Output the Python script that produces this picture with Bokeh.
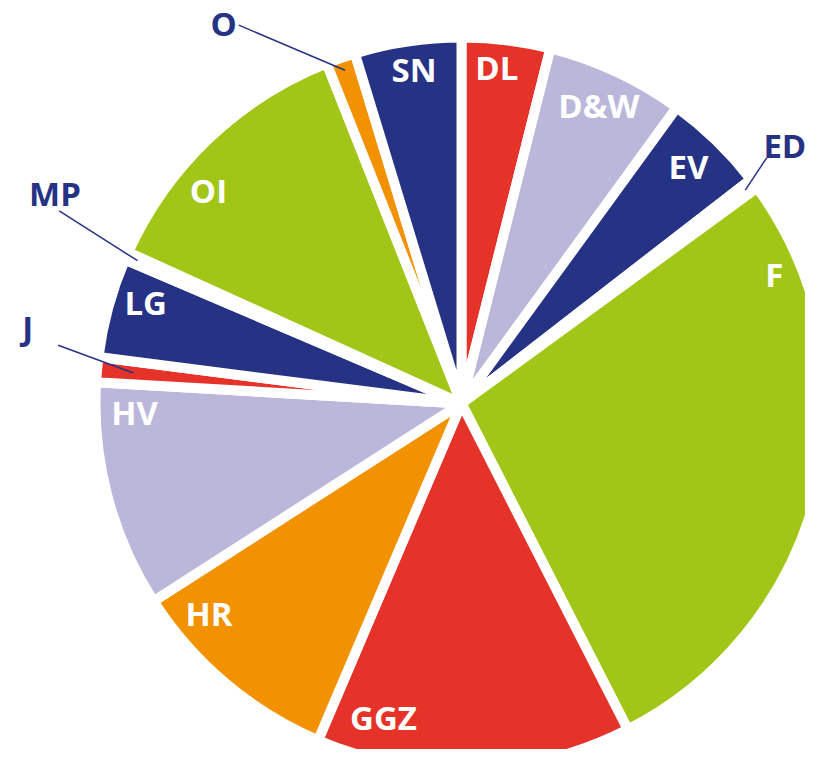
import numpy as np
from bokeh.plotting import figure
from bokeh.models import ColumnDataSource, Range1d
from bokeh.embed import file_html
from bokeh.resources import INLINE
from bokeh.core.properties import value

# ---- data ----
categories = ["DL", "D&W", "EV", "ED", "F", "GGZ", "HR", "HV", "J", "LG", "MP", "OI", "O", "SN"]
shares = [3.9, 6.1, 4.5, 0.45, 27.5, 13.9, 9.5, 10.0, 1.1, 4.4, 0.35, 12.2, 1.3, 4.7]

# ---- styles ----
RED, LAV, NAVY, GREEN, ORANGE = "#E63329", "#BAB7DA", "#263385", "#A2C617", "#F29200"
colors = [RED, LAV, NAVY, ORANGE, GREEN, RED, ORANGE, LAV, RED, NAVY, LAV, GREEN, ORANGE, NAVY]

# label layout: inside labels -> (fraction along slice, radius)
inside = {"DL": (0.43, 336), "D&W": (0.49, 327), "EV": (0.49, 327), "F": (0.14, 338),
          "GGZ": (0.817, 325), "HR": (0.79, 329), "HV": (0.856, 327), "LG": (0.64, 331),
          "OI": (0.353, 330), "SN": (0.52, 336)}
# outside labels -> (label angle offset from mid, label radius, leader inner r, leader outer angle offset, leader outer r)
outside = {"ED": (-1.5, 412.8, 355, -1.9, 391.8), "J": (4.4, 440, 329.5, 2.9, 407.5),
           "MP": (3.4, 457, 354, 1.8, 446), "O": (-12.9, 446.7, 353, -11.2, 439)}

CX, CY = 461.0, 403.0      # centre in picture pixels
R = 366                    # radius incl. half of white stroke
BASE = -1.5                # anchor offset for cap-centred text

vals = np.array(shares, dtype=float)
deg = vals / vals.sum() * 360.0
ends = np.cumsum(deg)
starts = ends - deg

def to_xy(theta_deg, r):
    t = np.radians(theta_deg)
    sx = CX + r * np.sin(t)
    sy = CY - r * np.cos(t)
    return sx, -sy

src = ColumnDataSource(dict(
    cat=categories, color=colors,
    start=np.radians(90 - ends), end=np.radians(90 - starts)))

p = figure(width=805, height=749, x_range=Range1d(0, 805), y_range=Range1d(-749, 0),
           min_border=0, toolbar_location=None, output_backend="svg",
           x_axis_location=None, y_axis_location=None)
p.grid.visible = False
p.outline_line_color = None
p.background_fill_color = "white"

p.wedge(x=CX, y=-CY, radius=R, start_angle="start", end_angle="end",
        fill_color="color", line_color="white", line_width=10, line_join="round", source=src)

lx, ly, lt, lc = [], [], [], []
sx0, sy0, sx1, sy1 = [], [], [], []
for i, c in enumerate(categories):
    mid = starts[i] + deg[i] / 2
    if c in inside:
        f, r = inside[c]
        x, y = to_xy(starts[i] + f * deg[i], r)
        lx.append(x); ly.append(y - BASE); lt.append(c); lc.append("white")
    elif c in outside:
        da, r, rin, dao, rout = outside[c]
        x, y = to_xy(mid + da, r)
        lx.append(x); ly.append(y - BASE); lt.append(c); lc.append(NAVY)
        a0, b0 = to_xy(mid, rin)
        a1, b1 = to_xy(mid + dao, rout)
        sx0.append(a0); sy0.append(b0); sx1.append(a1); sy1.append(b1)

p.segment(x0=sx0, y0=sy0, x1=sx1, y1=sy1, line_color=NAVY, line_width=1.5)
p.text(x=lx, y=ly, text=lt, text_color=lc, text_font=value("Open Sans"),
       text_font_style="bold", text_font_size="33px", text_align="center",
       text_baseline="alphabetic")

open("out.html", "w").write(file_html(p, INLINE))
